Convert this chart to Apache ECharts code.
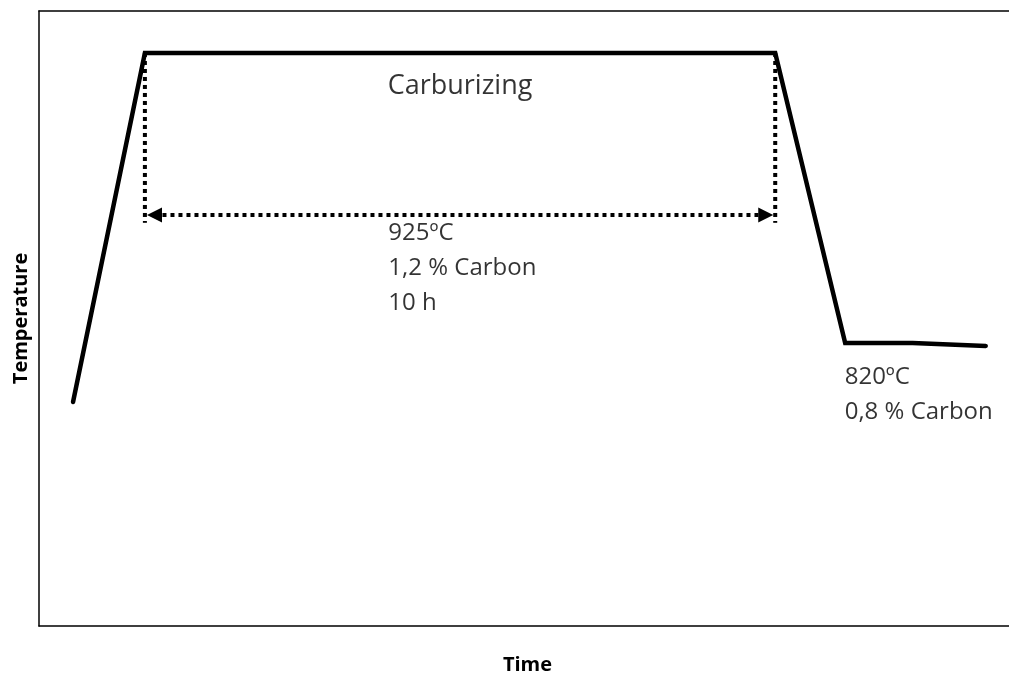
<!DOCTYPE html>
<html>
<head>
<meta charset="utf-8">
<script src="https://cdn.jsdelivr.net/npm/echarts@6/dist/echarts.min.js"></script>
<style>
html,body{margin:0;padding:0;background:#fff;}
#chart{width:1009px;height:674px;}
</style>
</head>
<body>
<div id="chart"></div>
<script>
// Process profile (time in h, temperature in °C)
const timeH = [0.54, 1.68, 11.68, 12.79, 13.86, 15.02];
const tempC = [798.6, 925, 925, 820, 820, 818.9];

// Dotted guides marking the carburizing hold
const guideTimes = [1.68, 11.68];
const guideTop = 925;
const guideBottom = 863.5;
const arrowTemp = 866.35;
const arrowStart = 1.832;
const arrowEnd = 11.53;

// Annotation texts and their anchors (time, temperature)
const annoTexts = ['Carburizing', '925ºC\n1,2 % Carbon\n10 h', '820ºC\n0,8 % Carbon'];
const annoTime = [5.54, 5.55, 12.79];
const annoTemp = [912.7, 866.0, 813.7];

const axisNameX = 'Time';
const axisNameY = 'Temperature';

const FONT = '"Open Sans", "Noto Sans", sans-serif';
const chart = echarts.init(document.getElementById('chart'));

const series = [];
series.push({
  type: 'line',
  data: timeH.map((t, i) => [t, tempC[i]]),
  symbol: 'none',
  lineStyle: { color: '#000', width: 4.5, cap: 'round', join: 'miter' },
  z: 5,
  silent: true
});
guideTimes.forEach(t => {
  series.push({
    type: 'line',
    data: [[t, guideTop], [t, guideBottom]],
    symbol: 'none',
    lineStyle: { color: '#000', width: 4, type: [4, 4], cap: 'butt' },
    z: 3,
    silent: true
  });
});
series.push({
  type: 'line',
  data: [],
  silent: true,
  markLine: {
    silent: true,
    symbol: ['triangle', 'triangle'],
    symbolSize: 15,
    label: { show: false },
    emphasis: { disabled: true },
    animation: false,
    lineStyle: { color: '#000', width: 4, type: [4, 4], cap: 'butt' },
    data: [[{ coord: [arrowStart, arrowTemp] }, { coord: [arrowEnd, arrowTemp] }]]
  }
});
annoTexts.forEach((txt, i) => {
  const big = i === 0;
  series.push({
    type: 'scatter',
    data: [[annoTime[i], annoTemp[i]]],
    symbolSize: 1,
    itemStyle: { color: 'rgba(0,0,0,0)' },
    silent: true,
    z: 6,
    label: {
      show: true,
      formatter: txt,
      position: [0, 0],
      align: 'left',
      verticalAlign: big ? 'middle' : 'top',
      fontFamily: FONT,
      fontSize: big ? 27 : 24,
      lineHeight: big ? 30 : 35,
      color: '#000'
    }
  });
});

const axisLineStyle = { show: true, lineStyle: { color: '#000', width: 1.5 } };

chart.setOption({
  animation: false,
  backgroundColor: '#fff',
  grid: {
    left: 39, top: 11, right: -7, bottom: 48,
    outerBoundsMode: 'none',
    containLabel: false
  },
  xAxis: [{
    type: 'value', min: 0, max: 15.5, position: 'bottom',
    name: axisNameX, nameLocation: 'middle', nameGap: 29,
    nameTextStyle: { fontFamily: FONT, fontSize: 20, fontWeight: 'bold', color: '#000' },
    axisLine: axisLineStyle, axisTick: { show: false },
    axisLabel: { show: false }, splitLine: { show: false }
  }, {
    type: 'value', min: 0, max: 15.5, position: 'top',
    axisLine: axisLineStyle, axisTick: { show: false },
    axisLabel: { show: false }, splitLine: { show: false }
  }],
  yAxis: {
    type: 'value', min: 717.5, max: 940.2,
    name: axisNameY, nameLocation: 'middle', nameGap: 8,
    nameTextStyle: { fontFamily: FONT, fontSize: 20, fontWeight: 'bold', color: '#000' },
    axisLine: axisLineStyle, axisTick: { show: false },
    axisLabel: { show: false }, splitLine: { show: false }
  },
  series: series
});
</script>
</body>
</html>
